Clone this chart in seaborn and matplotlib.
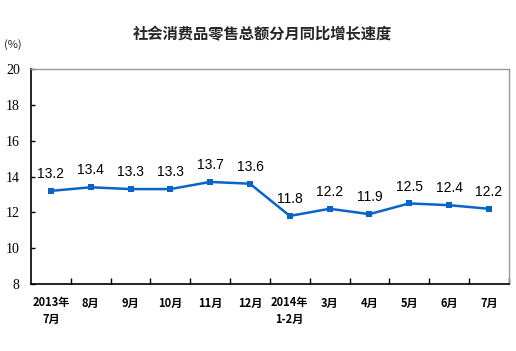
import matplotlib
matplotlib.use('Agg')
import matplotlib.pyplot as plt
import seaborn as sns
import pandas as pd
import numpy as np

# Data
months = ['2013年\n7月', '8月', '9月', '10月', '11月', '12月',
          '2014年\n1-2月', '3月', '4月', '5月', '6月', '7月']
growth = [13.2, 13.4, 13.3, 13.3, 13.7, 13.6, 11.8, 12.2, 11.9, 12.5, 12.4, 12.2]
y_ticks = [8, 10, 12, 14, 16, 18, 20]

df = pd.DataFrame({'month': months, 'growth': growth})

sns.set_theme(style='white')
plt.rcParams['font.family'] = ['Noto Sans CJK SC', 'DejaVu Sans']

fig = plt.figure(figsize=(5.16, 3.51), dpi=100)
ax = fig.add_axes([0.060, 0.191, 0.926, 0.612])

line_color = '#0a64c8'
sns.lineplot(data=df, x='month', y='growth', ax=ax, color=line_color,
             linewidth=1.8, marker='s', markersize=5, markeredgewidth=0,
             sort=False)

for i, v in enumerate(growth):
    ax.text(i, v + 0.55, f'{v:.1f}', ha='center', va='bottom',
            fontsize=10, family='Liberation Sans', color='black')

ax.set_xlim(-0.5, len(months) - 0.5)
ax.set_ylim(8, 20)
ax.set_yticks(y_ticks)
ax.set_yticklabels([str(t) for t in y_ticks], family='Liberation Serif',
                   fontsize=10, color='black')
ax.set_xticks(range(len(months)))
ax.set_xticklabels(months, fontsize=8, fontweight='bold', color='black',
                   linespacing=1.3)
ax.set_xticks(np.arange(0.5, len(months), 1), minor=True)
ax.tick_params(axis='x', which='major', length=0, pad=9)
ax.tick_params(axis='x', which='minor', direction='in', length=4,
               width=1, color='black', bottom=True)
ax.tick_params(axis='y', direction='in', length=3, width=1,
               color='black', left=True, pad=8)

ax.set_xlabel('')
ax.set_ylabel('')
for side in ['left', 'bottom']:
    ax.spines[side].set_color('black')
    ax.spines[side].set_linewidth(1.2)
for side in ['top', 'right']:
    ax.spines[side].set_color('#999999')
    ax.spines[side].set_linewidth(1)

fig.text(0.508, 0.902, '社会消费品零售总额分月同比增长速度', ha='center',
         va='center', fontsize=11, fontweight='bold')
fig.text(0.008, 0.872, '(%)', ha='left', va='center', fontsize=8)

fig.savefig('out.png', dpi=100)
